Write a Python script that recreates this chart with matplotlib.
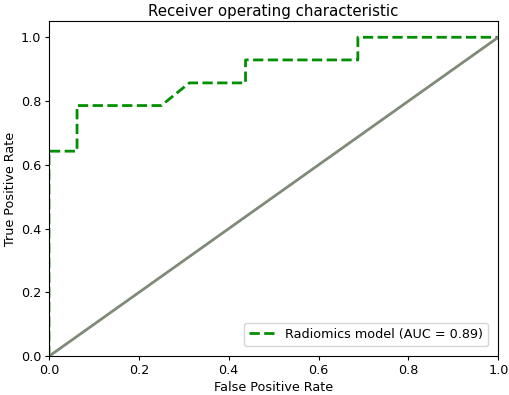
import matplotlib
matplotlib.use("Agg")
import matplotlib.pyplot as plt

fpr = [0.0, 0.0, 0.0625, 0.0625, 0.25, 0.3125, 0.4375, 0.4375, 0.6875, 0.6875, 1.0]
tpr = [0.0, 0.643, 0.643, 0.786, 0.786, 0.857, 0.857, 0.929, 0.929, 1.0, 1.0]
auc_label = "Radiomics model (AUC = 0.89)"
chance = [0.0, 1.0]

fs = 9.2
fig = plt.figure(figsize=(5.1, 3.95), dpi=100)
ax = fig.add_axes([0.096, 0.098, 0.881, 0.848])
ax.plot(fpr, tpr, color="#008f00", lw=2, linestyle="--", label=auc_label)
ax.plot(chance, chance, color="#7f8a78", lw=2)
ax.set_xlim(0.0, 1.0)
ax.set_ylim(0.0, 1.05)
ax.set_xlabel("False Positive Rate", fontsize=fs, labelpad=3)
ax.set_ylabel("True Positive Rate", fontsize=fs, labelpad=3)
ax.set_title("Receiver operating characteristic", fontsize=10.8, pad=4)
ax.tick_params(labelsize=fs, length=3.2, pad=2.5)
ax.legend(loc="lower right", fontsize=fs, handlelength=2.0, borderaxespad=0.8)
fig.savefig("out.png", dpi=100)
